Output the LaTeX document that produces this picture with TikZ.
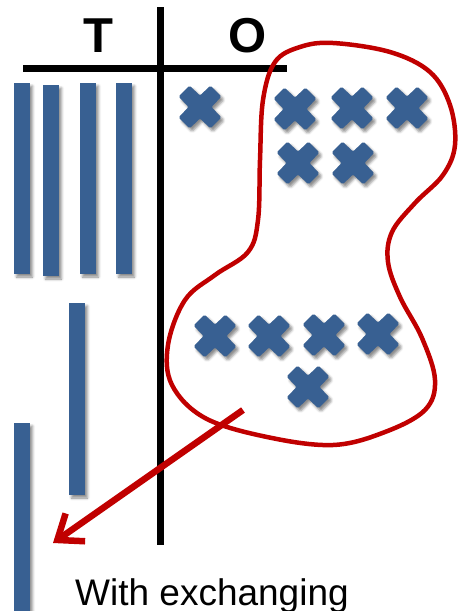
\documentclass[tikz,border=0pt]{standalone}
\usepackage{fontspec}
\setmainfont{Liberation Sans}
\usetikzlibrary{arrows.meta,shadows.blur}
\definecolor{barblue}{RGB}{56,96,146}
\definecolor{loopred}{RGB}{192,0,0}
\tikzset{
  tally/.style={fill=barblue, blur shadow={shadow xshift=2.5pt, shadow yshift=-3pt,
      shadow blur radius=2.5pt, shadow opacity=45}},
  rule/.style={line width=7pt},
  loop/.style={draw=loopred, line width=4.5pt},
  carry/.style={draw=loopred, line width=6.5pt,
      -{Straight Barb[length=22pt, width=34pt, line width=6.5pt]}},
  head/.style={font=\bfseries\fontsize{49}{52}\selectfont, inner sep=0pt, anchor=base},
  note/.style={font=\fontsize{37}{40}\selectfont, inner sep=0pt, anchor=base west},
  xmark/.pic={
    \path[tally, rounded corners=1.5pt]
      (11.3,0) -- (21.5,10.3) -- (10.3,21.5) -- (0,11.3) -- (-10.3,21.5)
      -- (-21.5,10.3) -- (-11.3,0) -- (-21.5,-10.3) -- (-10.3,-21.5)
      -- (0,-11.3) -- (10.3,-21.5) -- (21.5,-10.3) -- cycle;
  }
}
\begin{document}
\begin{tikzpicture}[x=1pt,y=-1pt]
\useasboundingbox (0,0) rectangle (459,611);

% column headings and the place-value frame
\node[head] (tens) at (98.5,52) {T};
\node[head] (ones) at (248,52) {O};
\draw[rule] (23,68) -- (287,68);
\draw[rule] (160,7) -- (160,545);

% tens rods
\path[tally] (14,83) rectangle (30,274);
\path[tally] (43,85) rectangle (59,276);
\path[tally] (80,83) rectangle (96,274);
\path[tally] (116,83) rectangle (132,274);
\path[tally] (69,303) rectangle (85,495);
\path[tally] (14,423) rectangle (30,625);

% ones counters
\pic (o1) at (200,107) {xmark};
\pic (o2) at (295,109) {xmark};
\pic (o3) at (352,108) {xmark};
\pic (o4) at (407,108) {xmark};
\pic (o5) at (298,163) {xmark};
\pic (o6) at (353,163) {xmark};
\pic (o7) at (215,336) {xmark};
\pic (o8) at (269,336) {xmark};
\pic (o9) at (324,335) {xmark};
\pic (o10) at (378,334) {xmark};
\pic (o11) at (308,387) {xmark};

% group of ten ones
\draw[loop] plot[smooth cycle, tension=0.6] coordinates {
  (333,43) (390,52) (430,72) (450,105) (455,145) (443,175) (415,203)
  (392,232) (388,262) (400,297) (422,338) (435,380) (425,410) (385,432)
  (333,445) (267,437) (205,418) (172,385) (168,345) (185,300) (215,275)
  (248,252) (258,220) (260,160) (263,100) (275,62) (300,47)};

% exchange arrow
\coordinate (from) at (243,410);
\coordinate (to) at (53,543);
\draw[carry] (from) -- (to);

\node[note] (caption) at (75,605) {With exchanging};
\end{tikzpicture}
\end{document}
